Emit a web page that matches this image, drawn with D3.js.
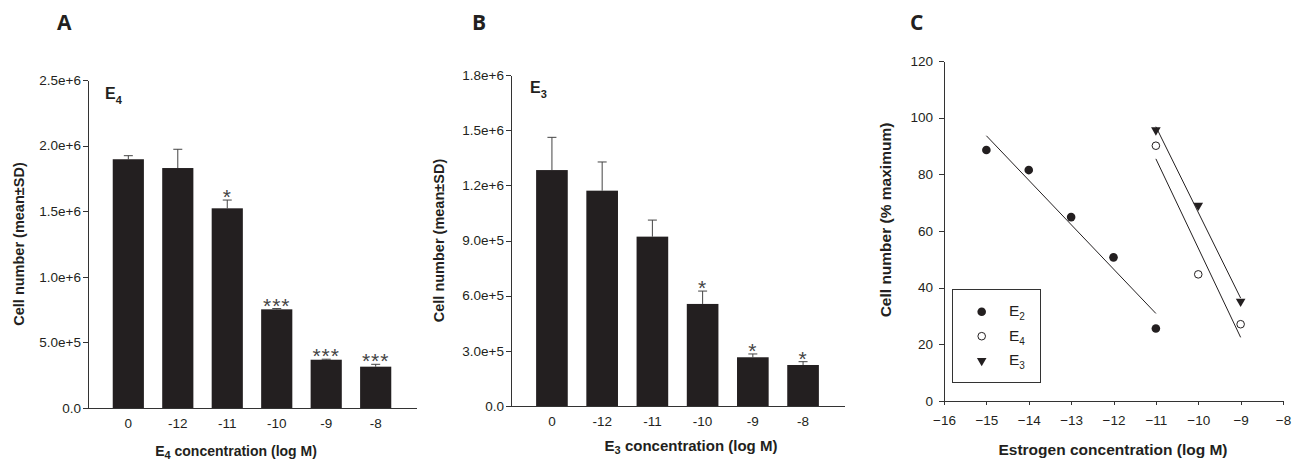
<!DOCTYPE html>
<html>
<head>
  <meta charset="utf-8">
  <title>Estrogen cell number panels</title>
  <style>
    body { margin: 0; background: #fff; }
    svg { display: block; }
  </style>
</head>
<body>
  <script src="https://d3js.org/d3.v7.min.js"></script>
  <script>
    // Panel A: E4
    const concLabels = ["0", "-12", "-11", "-10", "-9", "-8"];
    const e4Mean = [1.896e6, 1.829e6, 1.522e6, 0.752e6, 0.368e6, 0.315e6];
    const e4SD = [0.027e6, 0.143e6, 0.063e6, 0.006e6, 0.004e6, 0.018e6];
    const e4Sig = ["", "", "*", "***", "***", "***"];
    const yTicksA = [0, 5e5, 1e6, 1.5e6, 2e6, 2.5e6];

    // Panel B: E3
    const e3Mean = [1.283e6, 1.171e6, 0.921e6, 0.555e6, 0.265e6, 0.223e6];
    const e3SD = [0.178e6, 0.156e6, 0.090e6, 0.070e6, 0.018e6, 0.018e6];
    const e3Sig = ["", "", "", "*", "*", "*"];
    const yTicksB = [0, 3e5, 6e5, 9e5, 1.2e6, 1.5e6, 1.8e6];

    // Panel C: dose response (% maximum)
    const e2Conc = [-15, -14, -13, -12, -11];
    const e2Pct = [88.6, 81.5, 64.9, 50.7, 25.6];
    const e4Conc = [-11, -10, -9];
    const e4Pct = [90.1, 44.7, 27.1];
    const e3Conc = [-11, -10, -9];
    const e3Pct = [95.6, 69.0, 35.1];
    const xTicksC = [-16, -15, -14, -13, -12, -11, -10, -9, -8];
    const yTicksC = [0, 20, 40, 60, 80, 100, 120];

    const FONT = "'Liberation Sans', Arial, Helvetica, sans-serif";
    const INK = "#231f20";
    const width = 1296;
    const height = 461;
    const svg = d3.select("body").append("svg")
      .attr("width", width)
      .attr("height", height)
      .style("font-family", FONT);

    function sci(v) {
      if (v === 0) return "0.0";
      const e = Math.floor(Math.log10(v) + 1e-9);
      return (v / Math.pow(10, e)).toFixed(1) + "e+" + e;
    }

    function styleAxis(g) {
      g.selectAll("path, line").attr("stroke", "#333").attr("shape-rendering", "crispEdges");
      g.selectAll("text")
        .style("font-family", FONT)
        .style("font-size", "13.5px")
        .style("fill", INK);
    }

    function label(x, y, size) {
      return svg.append("text")
        .attr("x", x).attr("y", y)
        .style("font-family", FONT)
        .style("font-weight", "bold")
        .style("font-size", size + "px")
        .style("fill", INK);
    }

    function addSub(sel, main, sub, mainSize, subSize, dy) {
      sel.append("tspan").style("font-size", mainSize + "px").text(main);
      sel.append("tspan").style("font-size", subSize + "px").attr("dy", dy).text(sub);
    }

    function panelLetter(x, txt) {
      svg.append("text")
        .attr("x", x).attr("y", 30)
        .style("font-family", "'Open Sans', sans-serif")
        .style("font-weight", "bold")
        .style("font-size", "21px")
        .style("fill", INK)
        .text(txt);
    }

    function barPanel(opt) {
      const x = d3.scaleBand()
        .domain(concLabels)
        .range(opt.xRange)
        .paddingInner(0.37)
        .paddingOuter(0.5);
      const y = d3.scaleLinear()
        .domain([0, opt.yMax])
        .range(opt.yRange);

      const rows = concLabels.map((c, i) => ({ c: c, m: opt.mean[i], sd: opt.sd[i], sig: opt.sig[i] }));
      const cx = d => x(d.c) + x.bandwidth() / 2;

      // y axis
      svg.append("g")
        .attr("transform", "translate(" + opt.xRange[0] + ",0)")
        .call(d3.axisLeft(y).tickValues(opt.yTicks).tickFormat(sci).tickSize(5).tickSizeOuter(0).tickPadding(2))
        .call(styleAxis);

      // x axis
      svg.append("g")
        .attr("transform", "translate(0," + opt.yRange[0] + ")")
        .call(d3.axisBottom(x).tickSize(0).tickSizeOuter(0).tickPadding(10))
        .call(styleAxis);

      // error bars (upper only)
      const err = svg.append("g").attr("stroke", "#444").attr("stroke-width", 1);
      err.selectAll(".v")
        .data(rows)
        .enter().append("line")
        .attr("x1", cx).attr("x2", cx)
        .attr("y1", d => y(d.m))
        .attr("y2", d => y(d.m + d.sd));
      err.selectAll(".cap")
        .data(rows)
        .enter().append("line")
        .attr("x1", d => cx(d) - 4.5)
        .attr("x2", d => cx(d) + 4.5)
        .attr("y1", d => y(d.m + d.sd))
        .attr("y2", d => y(d.m + d.sd));

      svg.append("g").selectAll("rect")
        .data(rows)
        .enter().append("rect")
        .attr("x", d => x(d.c))
        .attr("y", d => y(d.m))
        .attr("width", x.bandwidth())
        .attr("height", d => y(0) - y(d.m))
        .attr("fill", INK);

      // significance stars
      svg.append("g").selectAll("text")
        .data(rows.filter(d => d.sig))
        .enter().append("text")
        .attr("x", cx)
        .attr("y", d => y(d.m + d.sd) + 4)
        .attr("text-anchor", "middle")
        .style("font-family", FONT)
        .style("font-size", "21px")
        .style("letter-spacing", "1px")
        .style("fill", "#444")
        .text(d => d.sig);

      panelLetter(opt.letterX, opt.letter);

      // compound tag inside plot
      addSub(label(opt.tagX, opt.tagY, 16), "E", opt.compound, 16, 11, 5);

      // y label
      label(0, 0, 14.5)
        .attr("transform", "translate(" + opt.yLabelX + "," + ((opt.yRange[0] + opt.yRange[1]) / 2) + ") rotate(-90)")
        .attr("text-anchor", "middle")
        .text("Cell number (mean\u00b1SD)");

      // x label
      const xl = label(opt.xLabelX, opt.xLabelY, opt.xLabelSize).attr("text-anchor", "middle");
      xl.append("tspan").text("E");
      xl.append("tspan").style("font-size", "11px").attr("dy", 3).text(opt.compound);
      xl.append("tspan").attr("dy", -3).text(" concentration (log M)");
    }

    barPanel({
      mean: e4Mean, sd: e4SD, sig: e4Sig, yTicks: yTicksA, yMax: 2.5e6,
      xRange: [88, 416], yRange: [408, 80],
      letter: "A", letterX: 57, compound: "4", tagX: 105, tagY: 99,
      yLabelX: 24, xLabelX: 236, xLabelY: 456, xLabelSize: 14
    });

    barPanel({
      mean: e3Mean, sd: e3SD, sig: e3Sig, yTicks: yTicksB, yMax: 1.8e6,
      xRange: [511, 844], yRange: [406, 75],
      letter: "B", letterX: 472, compound: "3", tagX: 530, tagY: 93,
      yLabelX: 444, xLabelX: 691, xLabelY: 451, xLabelSize: 15
    });

    // Panel C
    const xC = d3.scaleLinear().domain([-16, -8]).range([944, 1283]);
    const yC = d3.scaleLinear().domain([0, 120]).range([401, 61]);

    svg.append("g")
      .attr("transform", "translate(944,0)")
      .call(d3.axisLeft(yC).tickValues(yTicksC).tickSize(5).tickSizeOuter(0).tickPadding(6))
      .call(styleAxis);
    svg.append("g")
      .attr("transform", "translate(0,401)")
      .call(d3.axisBottom(xC).tickValues(xTicksC).tickSize(4).tickSizeOuter(0).tickPadding(10))
      .call(styleAxis);

    function fit(xs, ys) {
      const mx = d3.mean(xs), my = d3.mean(ys);
      const b = d3.sum(xs, (v, i) => (v - mx) * (ys[i] - my)) / d3.sum(xs, v => (v - mx) * (v - mx));
      return v => my + b * (v - mx);
    }

    const series = [
      { name: "2", xs: e2Conc, ys: e2Pct, sym: "filled" },
      { name: "4", xs: e4Conc, ys: e4Pct, sym: "open" },
      { name: "3", xs: e3Conc, ys: e3Pct, sym: "tri" }
    ];

    series.forEach(s => {
      const f = fit(s.xs, s.ys);
      const x0 = d3.min(s.xs), x1 = d3.max(s.xs);
      svg.append("line")
        .attr("x1", xC(x0)).attr("y1", yC(f(x0)))
        .attr("x2", xC(x1)).attr("y2", yC(f(x1)))
        .attr("stroke", INK)
        .attr("stroke-width", 1);
    });

    function drawSymbol(g, type, cx, cy) {
      if (type === "filled") {
        g.append("circle").attr("cx", cx).attr("cy", cy).attr("r", 4.3).attr("fill", INK);
      } else if (type === "open") {
        g.append("circle").attr("cx", cx).attr("cy", cy).attr("r", 3.8)
          .attr("fill", "#fff").attr("stroke", INK).attr("stroke-width", 1);
      } else {
        g.append("path")
          .attr("d", d3.symbol(d3.symbolTriangle, 40)())
          .attr("transform", "translate(" + cx + "," + cy + ") rotate(180)")
          .attr("fill", INK);
      }
    }

    const pts = svg.append("g");
    series.forEach(s => {
      s.xs.forEach((v, i) => drawSymbol(pts, s.sym, xC(v), yC(s.ys[i])));
    });

    // legend
    const leg = svg.append("g");
    leg.append("rect")
      .attr("x", 952.5).attr("y", 289.5)
      .attr("width", 88).attr("height", 93)
      .attr("fill", "#fff")
      .attr("stroke", "#333")
      .attr("stroke-width", 1);
    series.forEach((s, i) => {
      const cy = 311.7 + i * 24.5;
      drawSymbol(leg, s.sym, 981.7, cy);
      const t = leg.append("text").attr("x", 1009).attr("y", cy + 4.5)
        .style("font-family", FONT).style("fill", INK);
      addSub(t, "E", s.name, 15.5, 10, 4);
    });

    panelLetter(910, "C");

    label(0, 0, 15.5)
      .attr("transform", "translate(891,220) rotate(-90)")
      .attr("text-anchor", "middle")
      .text("Cell number (% maximum)");

    label(1113, 455, 15.5)
      .attr("text-anchor", "middle")
      .text("Estrogen concentration (log M)");
  </script>
</body>
</html>
